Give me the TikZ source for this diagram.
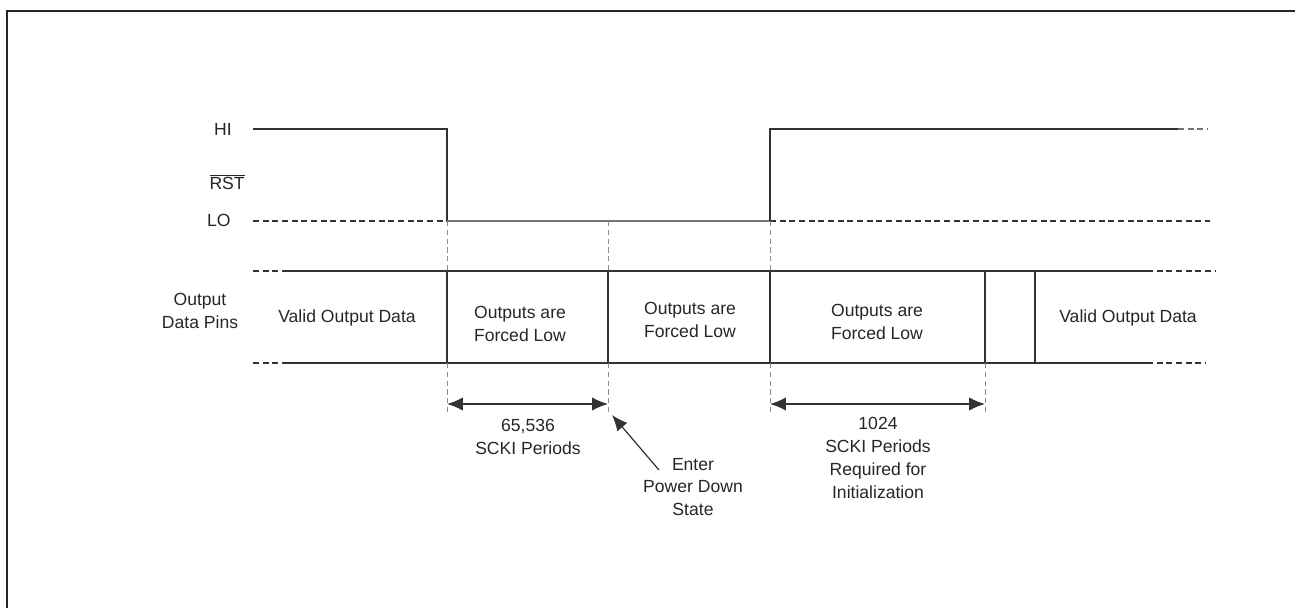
\documentclass[tikz,border=0pt]{standalone}
\usepackage{fontspec}
\setmainfont{Liberation Sans}
\usetikzlibrary{arrows.meta}

\begin{document}
\begin{tikzpicture}[x=0.02cm,y=-0.02cm,
    lbl/.style={font=\fontsize{10}{13}\selectfont, text=black!85, align=center, inner sep=0pt},
    sig/.style={line width=0.6pt, draw=black!80},
    lvl/.style={line width=0.6pt, draw=black!80, dash pattern=on 3.5pt off 2pt},
    guide/.style={line width=0.5pt, draw=black!45, dash pattern=on 3pt off 2pt},
    dim/.style={line width=0.7pt, draw=black!80, {Latex[length=9pt,width=7.5pt]}-{Latex[length=9pt,width=7.5pt]}},
    ptr/.style={line width=0.7pt, draw=black!80, -{Latex[length=9pt,width=7.5pt]}}]
  \useasboundingbox (0,0) rectangle (1295,608);
  \draw[line width=1.2pt, black!85] (7,608) -- (7,11) -- (1295,11);
  % RST level
  \node[lbl, anchor=east] (hi) at (232,129) {HI};
  \node[lbl, anchor=east] (rst) at (245,182) {$\overline{\mbox{RST}}$};
  \node[lbl, anchor=east] (lo) at (231,220) {LO};
  \draw[lvl] (253,221) -- (447,221);
  \draw[lvl] (770,221) -- (1210,221);
  \draw[sig] (253,129) -- (447,129) -- (447,221);
  \draw[sig, black!55] (447,221) -- (770,221);
  \draw[sig] (770,221) -- (770,129) -- (1178,129);
  \draw[lvl, black!55] (1178,129) -- (1208,129);
  % data bus
  \node[lbl] (pins) at (200,311) {Output\\Data Pins};
  \draw[lvl] (253,271) -- (286,271);  \draw[lvl] (253,363) -- (286,363);
  \draw[sig] (286,271) -- (1147,271); \draw[sig] (286,363) -- (1147,363);
  \draw[lvl] (1147,271) -- (1215,271); \draw[lvl] (1147,363) -- (1206,363);
  \foreach \x in {447,608,770,985,1035}
    \draw[sig] (\x,271) -- (\x,363);
  \node[lbl] (valid1) at (347,318) {Valid Output Data};
  \node[lbl] (low1) at (520,324) {Outputs are\\Forced Low};
  \node[lbl] (low2) at (690,320) {Outputs are\\Forced Low};
  \node[lbl] (low3) at (877,322) {Outputs are\\Forced Low};
  \node[lbl] (valid2) at (1128,318) {Valid Output Data};
  % guides
  \foreach \x in {447,608,770} {
    \draw[guide] (\x,221) -- (\x,271);
    \draw[guide] (\x,363) -- (\x,412);
  }
  \draw[guide] (985,363) -- (985,412);
  % timing
  \coordinate (p1l) at (447,404); \coordinate (p1r) at (608,404);
  \coordinate (p2l) at (770,404); \coordinate (p2r) at (985,404);
  \draw[dim] (p1l) -- (p1r);
  \draw[dim] (p2l) -- (p2r);
  \node[lbl] (cnt1) at (528,437) {65,536\\SCKI Periods};
  \node[lbl] (cnt2) at (878,458) {1024\\SCKI Periods\\Required for\\Initialization};
  \node[lbl] (enter) at (693,487) {Enter\\Power Down\\State};
  \coordinate (pdtip) at (612,415); \coordinate (pdtail) at (659,470);
  \draw[ptr] (pdtail) -- (pdtip);
\end{tikzpicture}
\end{document}
